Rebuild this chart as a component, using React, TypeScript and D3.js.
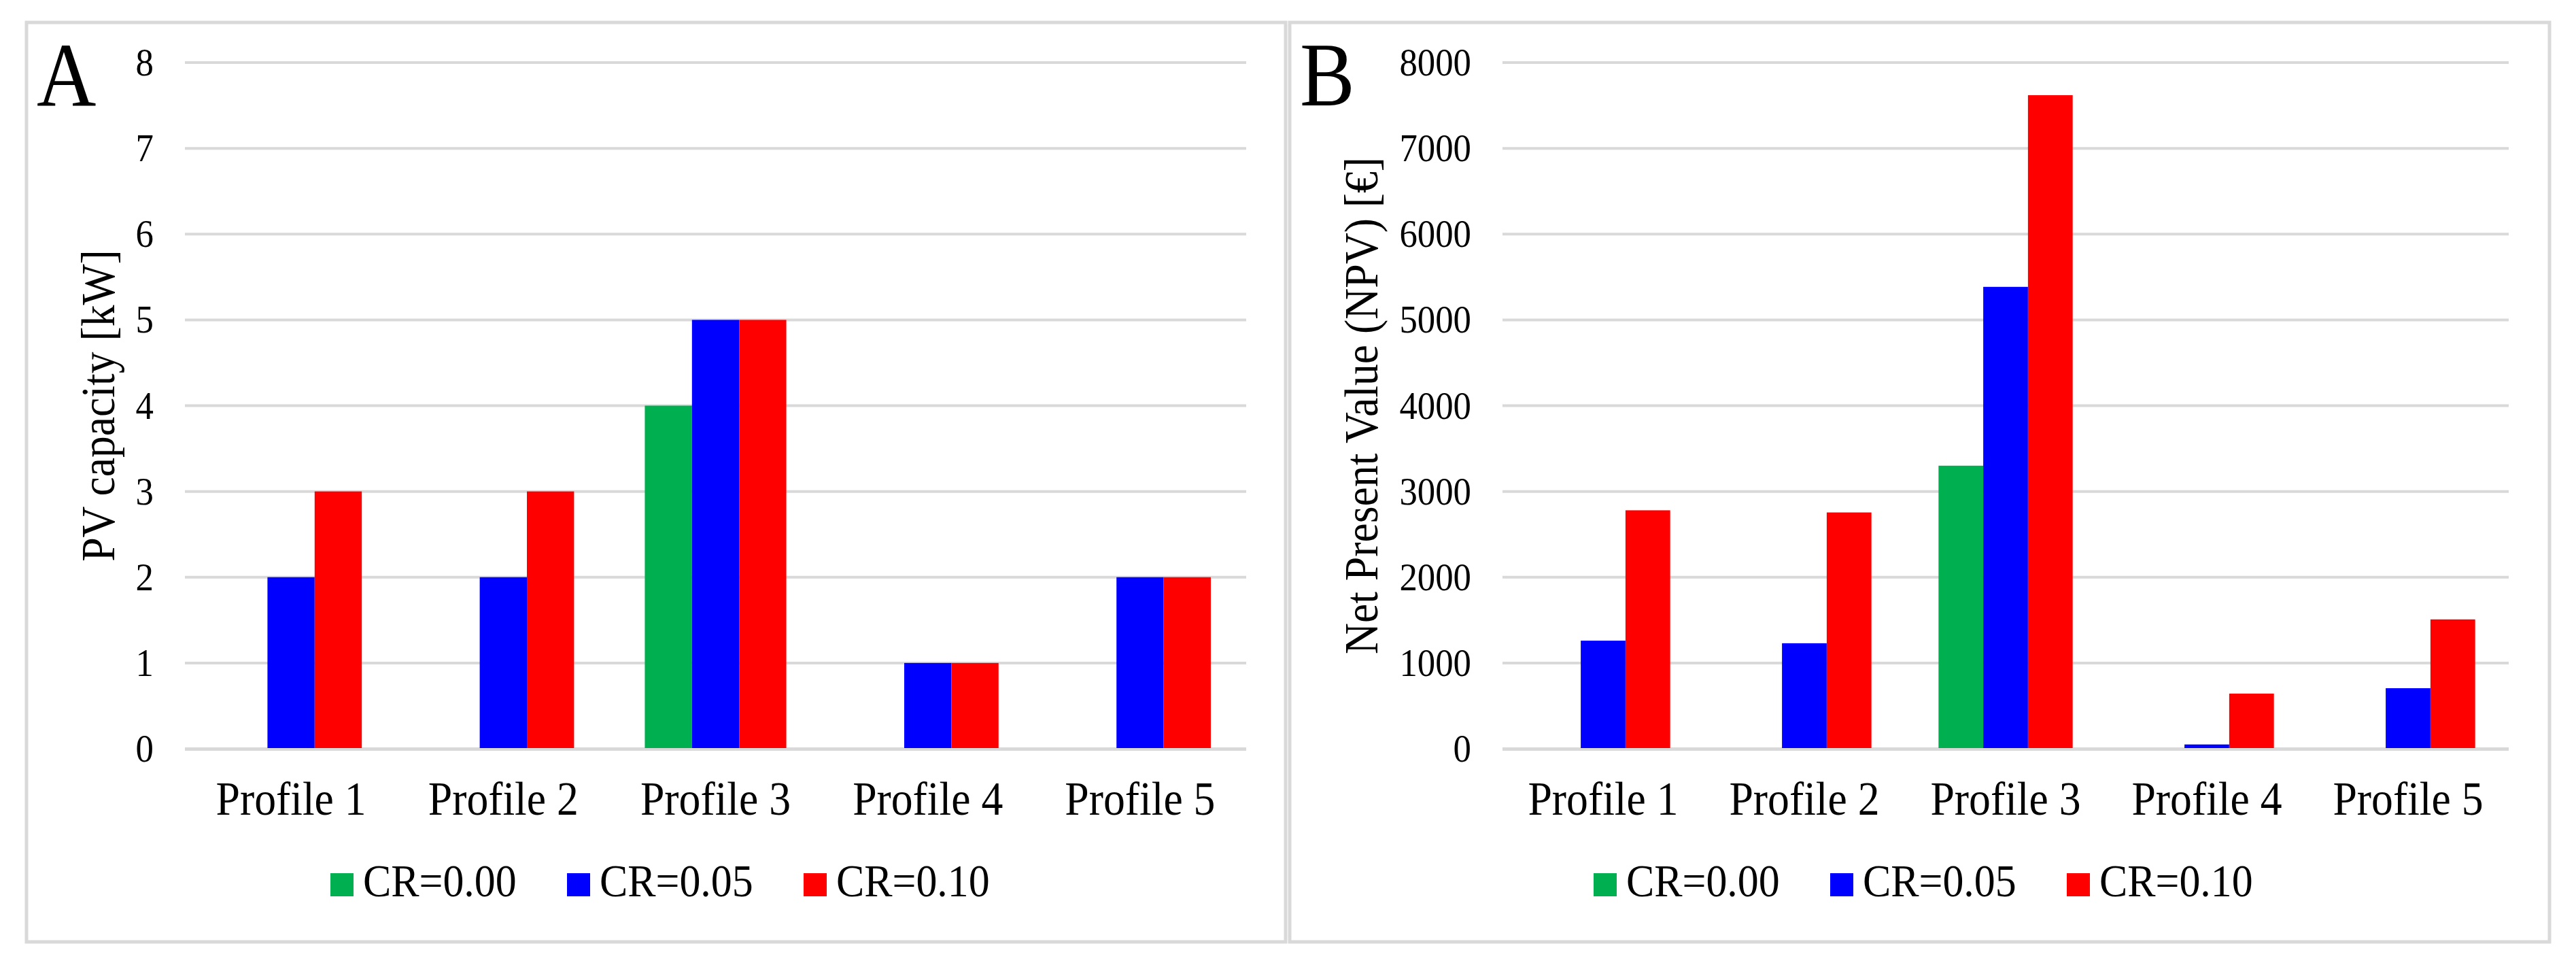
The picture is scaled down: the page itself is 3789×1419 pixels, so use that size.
import { useEffect, useRef } from "react";
import * as d3 from "d3";

// chart data
const profiles = ["Profile 1", "Profile 2", "Profile 3", "Profile 4", "Profile 5"];
const seriesNames = ["CR=0.00", "CR=0.05", "CR=0.10"];
const seriesColors = ["#00B050", "#0000FF", "#FF0000"];

const pvCr000 = [0, 0, 4, 0, 0];
const pvCr005 = [2, 2, 5, 1, 2];
const pvCr010 = [3, 3, 5, 1, 2];

const npvCr000 = [0, 0, 3300, 0, 0];
const npvCr005 = [1260, 1230, 5385, 50, 706];
const npvCr010 = [2780, 2755, 7620, 643, 1508];

const pvTicks = [0, 1, 2, 3, 4, 5, 6, 7, 8];
const npvTicks = [0, 1000, 2000, 3000, 4000, 5000, 6000, 7000, 8000];

const W = 3789;
const H = 1419;
const FONT = "'Liberation Serif', 'Times New Roman', serif";
const SX = 0.91; // the original text is a bit narrow

type Panel = {
  letter: string;
  title: string;
  values: number[][];
  ticks: number[];
  max: number;
  left: number;
  right: number;
  plotL: number;
  plotR: number;
};

const panels: Panel[] = [
  {
    letter: "A",
    title: "PV capacity [kW]",
    values: [pvCr000, pvCr005, pvCr010],
    ticks: pvTicks,
    max: 8,
    left: 39,
    right: 1891,
    plotL: 272,
    plotR: 1833,
  },
  {
    letter: "B",
    title: "Net Present Value (NPV) [€]",
    values: [npvCr000, npvCr005, npvCr010],
    ticks: npvTicks,
    max: 8000,
    left: 1897,
    right: 3750,
    plotL: 2210,
    plotR: 3690,
  },
];

const App = () => {
  const svgRef = useRef<SVGSVGElement>(null);

  useEffect(() => {
    const svg = d3.select(svgRef.current);
    svg.selectAll("*").remove();

    const top = 33;
    const bottom = 1385;
    const yTop = 92;
    const yBase = 1101;

    panels.forEach((p) => {
      const g = svg.append("g");

      g.append("rect")
        .attr("x", p.left)
        .attr("y", top)
        .attr("width", p.right - p.left)
        .attr("height", bottom - top)
        .attr("fill", "white")
        .attr("stroke", "#d9d9d9")
        .attr("stroke-width", 5);

      const y = d3.scaleLinear().domain([0, p.max]).range([yBase, yTop]);
      const x0 = d3.scaleBand().domain(profiles).range([p.plotL, p.plotR]).padding(0);
      const x1 = d3
        .scaleBand()
        .domain(seriesNames)
        .range([0, x0.bandwidth()])
        .paddingInner(0)
        .paddingOuter(0.75);

      // gridlines
      g.selectAll(".grid")
        .data(p.ticks)
        .join("line")
        .attr("x1", p.plotL)
        .attr("x2", p.plotR)
        .attr("y1", (d) => y(d))
        .attr("y2", (d) => y(d))
        .attr("stroke", "#d9d9d9")
        .attr("stroke-width", 4);

      // tick labels
      g.selectAll(".tick")
        .data(p.ticks)
        .join("text")
        .attr("transform", (d) => `translate(${p.plotL - 46},${y(d) + 19}) scale(${SX},1)`)
        .attr("text-anchor", "end")
        .attr("font-family", FONT)
        .attr("font-size", 58)
        .attr("fill", "#000")
        .text((d) => String(d));

      // bars
      seriesNames.forEach((s, si) => {
        g.append("g")
          .selectAll("rect")
          .data(p.values[si])
          .join("rect")
          .attr("x", (_, i) => (x0(profiles[i]) ?? 0) + (x1(s) ?? 0))
          .attr("y", (d) => y(d))
          .attr("width", x1.bandwidth())
          .attr("height", (d) => yBase - y(d))
          .attr("fill", seriesColors[si]);
      });

      // baseline
      g.append("line")
        .attr("x1", p.plotL)
        .attr("x2", p.plotR)
        .attr("y1", yBase + 1)
        .attr("y2", yBase + 1)
        .attr("stroke", "#d9d9d9")
        .attr("stroke-width", 4);

      // category labels
      g.selectAll(".cat")
        .data(profiles)
        .join("text")
        .attr("transform", (d) => `translate(${(x0(d) ?? 0) + x0.bandwidth() / 2},1198) scale(${SX},1)`)
        .attr("text-anchor", "middle")
        .attr("font-family", FONT)
        .attr("font-size", 70)
        .text((d) => d);

      // y title
      g.append("text")
        .attr("transform", `translate(${p.left + 129},${(yTop + yBase) / 2}) rotate(-90) scale(${SX},1)`)
        .attr("text-anchor", "middle")
        .attr("font-family", FONT)
        .attr("font-size", 70)
        .text(p.title);

      // panel letter
      g.append("text")
        .attr("transform", `translate(${p.left + 15},155) scale(${SX},1)`)
        .attr("font-family", FONT)
        .attr("font-size", 133)
        .text(p.letter);

      // legend
      const lg = g
        .selectAll(".legend")
        .data(seriesNames)
        .join("g")
        .attr("transform", (_, i) => `translate(${p.left + 447 + i * 348},0)`);
      lg.append("rect")
        .attr("x", 0)
        .attr("y", 1284)
        .attr("width", 34)
        .attr("height", 34)
        .attr("fill", (_, i) => seriesColors[i]);
      lg.append("text")
        .attr("transform", `translate(48,1318) scale(${SX},1)`)
        .attr("font-family", FONT)
        .attr("font-size", 68)
        .text((d) => d);
    });
  }, []);

  return (
    <svg
      ref={svgRef}
      width={W}
      height={H}
      style={{ position: "absolute", left: 0, top: 0, display: "block", background: "white" }}
    />
  );
};

export default App;
